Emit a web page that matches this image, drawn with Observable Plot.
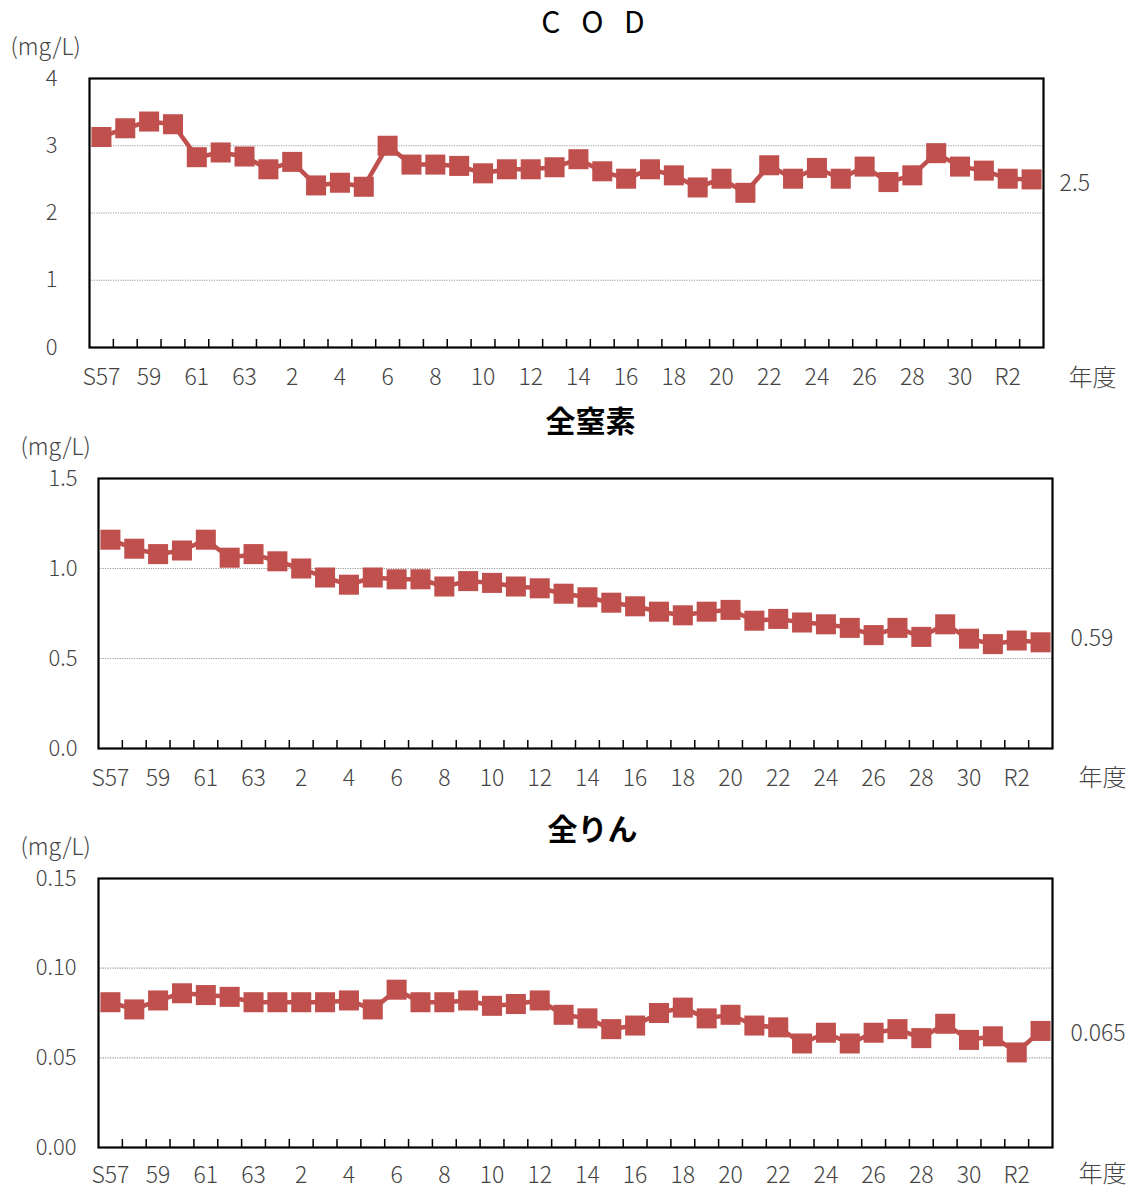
<!DOCTYPE html>
<html><head><meta charset="utf-8">
<script src="https://cdn.jsdelivr.net/npm/d3@7"></script>
<script src="https://cdn.jsdelivr.net/npm/@observablehq/plot@0.6"></script>
<style>
body{margin:0;background:#fff;}
#chart svg{display:block;}
</style></head><body><div id="chart"></div>
<script>
// fiscal years S57 (1982) .. R3 (2021)
const years = ["S57","S58","S59","S60","S61","S62","S63",
  "H1","H2","H3","H4","H5","H6","H7","H8","H9","H10","H11","H12","H13","H14","H15",
  "H16","H17","H18","H19","H20","H21","H22","H23","H24","H25","H26","H27","H28","H29","H30",
  "R1","R2","R3"];
const tickYears = ["S57","S59","S61","S63","H2","H4","H6","H8","H10","H12","H14","H16","H18","H20","H22","H24","H26","H28","H30","R2"];
const tickLabels = ["S57","59","61","63","2","4","6","8","10","12","14","16","18","20","22","24","26","28","30","R2"];

const cod = [3.13,3.26,3.36,3.32,2.83,2.90,2.84,2.65,2.76,2.41,2.45,2.39,3.00,2.72,2.72,2.70,2.59,2.65,2.65,2.68,
  2.80,2.62,2.51,2.65,2.56,2.38,2.51,2.30,2.71,2.51,2.67,2.51,2.69,2.46,2.56,2.89,2.69,2.63,2.51,2.50];
const tn = [1.16,1.11,1.08,1.10,1.16,1.06,1.08,1.04,1.00,0.95,0.91,0.95,0.94,0.94,0.90,0.93,0.92,0.90,0.89,0.86,
  0.84,0.81,0.79,0.76,0.74,0.76,0.77,0.71,0.72,0.70,0.69,0.67,0.63,0.67,0.62,0.69,0.61,0.58,0.60,0.59];
const tp = [0.081,0.077,0.082,0.086,0.085,0.084,0.081,0.081,0.081,0.081,0.082,0.077,0.088,0.081,0.081,0.082,0.079,0.080,0.082,0.074,
  0.072,0.066,0.068,0.075,0.078,0.072,0.074,0.068,0.067,0.058,0.064,0.058,0.064,0.066,0.061,0.069,0.060,0.062,0.053,0.065];

const codTicks = [0,1,2,3,4];
const tnTicks = [0,0.5,1.0,1.5];
const tpTicks = [0,0.05,0.10,0.15];
const endLabels = ["2.5","0.59","0.065"];
const titles = ["C O D","全窒素","全りん"];
const unitLabel = "(mg/L)";
const yearLabel = "年度";

const RED = "#c0504d";
const FONT = "'Noto Sans CJK JP', 'Noto Sans', sans-serif";
const TXT = "#444";

function panel({values, ticks, fmt, title, titleBold, titleDx, titleDy, endLabel, endDy,
                height, marginTop, marginBottom, marginLeft, marginRight, yPad, xPad, unitDx, unitDy, yearDx, yearDy, endDx}) {
  const data = values.map((v, i) => ({i, year: years[i], v}));
  const last = data[data.length - 1];
  const frameH = height - marginTop - marginBottom;
  const bounds = data.slice(0, -1).map(d => d.i + 0.5);
  const tickIdx = tickYears.map(y => years.indexOf(y));
  const grid = ticks.slice(1, -1);
  return Plot.plot({
    width: 1135, height, marginTop, marginBottom, marginLeft, marginRight,
    style: {fontFamily: FONT, fontSize: "23px", background: "#fff", overflow: "visible"},
    x: {domain: [-0.5, values.length - 0.5], label: null},
    y: {domain: [ticks[0], ticks[ticks.length - 1]], label: null},
    marks: [
      Plot.ruleY(grid, {stroke: "#9a9a9a", strokeDasharray: "1.2,1.2", strokeWidth: 1.2}),
      Plot.ruleX(bounds, {x: d => d, stroke: "#000", strokeWidth: 1.5, insetTop: frameH - 8}),
      Plot.line(data, {x: "i", y: "v", stroke: RED, strokeWidth: 4.5}),
      Plot.dot(data, {x: "i", y: "v", symbol: "square", r: 11.3, fill: RED, stroke: null}),
      Plot.frame({stroke: "#000", strokeWidth: 2.2}),
      Plot.axisX({ticks: tickIdx, tickFormat: i => tickLabels[tickIdx.indexOf(i)], tickSize: 0, tickPadding: xPad,
        fill: TXT, fontSize: 23, fontWeight: 300, label: null}),
      Plot.axisY({ticks, tickFormat: fmt, tickSize: 0, tickPadding: yPad, fill: TXT, fontSize: 22, fontWeight: 300, label: null}),
      Plot.text([last], {x: "i", y: "v", text: () => endLabel, textAnchor: "start", dx: endDx, dy: endDy,
        fill: TXT, fontSize: 23, fontWeight: 300}),
      Plot.text([title], {text: d => d, frameAnchor: "top", dx: titleDx, dy: titleDy, fill: "#000",
        fontSize: 30, fontWeight: titleBold ? "bold" : "normal"}),
      Plot.text([unitLabel], {text: d => d, frameAnchor: "top-left", textAnchor: "start", dx: unitDx, dy: unitDy,
        fill: TXT, fontSize: 23, fontWeight: 300}),
      Plot.text([yearLabel], {text: d => d, frameAnchor: "bottom-right", textAnchor: "start", dx: yearDx, dy: yearDy,
        fill: TXT, fontSize: 24, fontWeight: 300})
    ]
  });
}

const root = document.getElementById("chart");
root.append(panel({values: cod, ticks: codTicks, fmt: d3.format("d"), title: titles[0], titleBold: false,
  titleDx: 30, titleDy: -67, endLabel: endLabels[0], endDy: 4,
  height: 400, marginTop: 78, marginBottom: 53, marginLeft: 89, marginRight: 92, yPad: 32, xPad: 21,
  unitDx: -79, unitDy: -40, yearDx: 25, yearDy: 38, endDx: 28}));
root.append(panel({values: tn, ticks: tnTicks, fmt: d3.format(".1f"), title: titles[1], titleBold: true,
  titleDx: 15, titleDy: -68, endLabel: endLabels[1], endDy: -4,
  height: 400, marginTop: 78, marginBottom: 52, marginLeft: 98, marginRight: 83, yPad: 21, xPad: 21,
  unitDx: -78, unitDy: -40, yearDx: 26, yearDy: 37, endDx: 30}));
root.append(panel({values: tp, ticks: tpTicks, fmt: d3.format(".2f"), title: titles[2], titleBold: true,
  titleDx: 17, titleDy: -60, endLabel: endLabels[2], endDy: 3,
  height: 389, marginTop: 78, marginBottom: 42, marginLeft: 98, marginRight: 83, yPad: 22, xPad: 19,
  unitDx: -78, unitDy: -40, yearDx: 26, yearDy: 34, endDx: 30}));

// wider letter spacing for the COD title, as in the original
root.querySelectorAll("svg text").forEach(t => { if (t.textContent === "C O D") t.setAttribute("letter-spacing", "7"); });
</script></body></html>
